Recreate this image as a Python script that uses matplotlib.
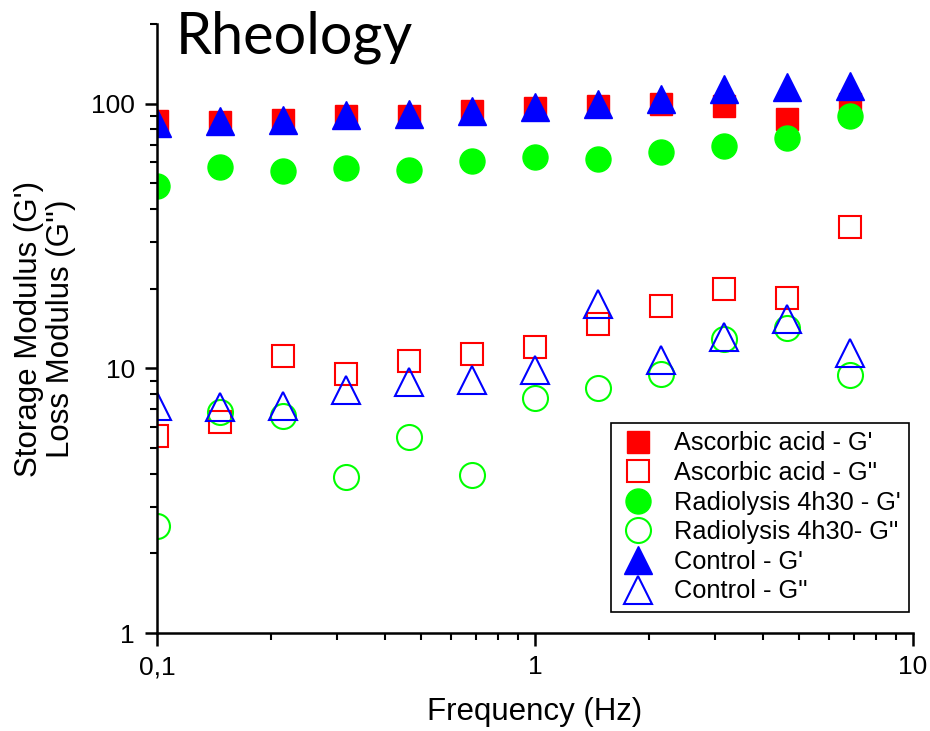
import matplotlib.pyplot as plt
from matplotlib.ticker import FixedLocator, LogLocator, NullFormatter

plt.rcParams['font.family'] = ['Liberation Sans', 'DejaVu Sans']

# frequencies (Hz), 6 points per decade
freq = [0.1, 0.147, 0.215, 0.316, 0.464, 0.681, 1.0, 1.47, 2.15, 3.16, 4.64, 6.81]

ascorbic_g1 = [86.3, 85.0, 87.0, 89.6, 89.6, 94.0, 96.7, 98.5, 99.8, 97.8, 87.5, 100.0]
ascorbic_g2 = [5.54, 6.29, 11.1, 9.52, 10.66, 11.3, 12.1, 14.7, 17.2, 20.0, 18.4, 34.1]
radio_g1 = [48.8, 57.5, 55.9, 57.2, 56.2, 61.0, 62.7, 61.6, 65.5, 69.0, 74.5, 89.6]
radio_g2 = [2.53, 6.84, 6.59, 3.89, 5.49, 3.97, 7.73, 8.43, 9.55, 12.9, 14.2, 9.46]
control_g1 = [84.3, 86.3, 87.0, 91.0, 91.8, 94.0, 96.9, 99.4, 104.0, 114.0, 116.0, 116.6]
control_g2 = [7.19, 7.13, 7.2, 8.3, 8.87, 9.08, 9.83, 17.5, 10.8, 13.2, 15.4, 11.4]

fig = plt.figure(figsize=(9.3, 7.31), dpi=100)
ax = fig.add_axes([0.1688, 0.134, 0.8129, 0.833])

red, green, blue = '#ff0000', '#00ff00', '#0000ff'
ax.plot(freq, ascorbic_g1, 's', ms=16, color=red, mec=red, label="Ascorbic acid - G'")
ax.plot(freq, ascorbic_g2, 's', ms=16, mfc='none', mec=red, mew=1.5, label="Ascorbic acid - G''")
ax.plot(freq, radio_g1, 'o', ms=18, color=green, mec=green, label="Radiolysis 4h30 - G'")
ax.plot(freq, radio_g2, 'o', ms=18, mfc='none', mec=green, mew=1.5, label="Radiolysis 4h30- G''")
ax.plot(freq, control_g1, '^', ms=20, color=blue, mec=blue, label="Control - G'")
ax.plot(freq, control_g2, '^', ms=20, mfc='none', mec=blue, mew=1.5, label="Control - G''")

ax.set_xscale('log')
ax.set_yscale('log')
ax.set_xlim(0.1, 10)
ax.set_ylim(1, 200)

ax.xaxis.set_major_locator(FixedLocator([0.1, 1, 10]))
ax.set_xticklabels(['0,1', '1', '10'])
ax.xaxis.set_minor_locator(LogLocator(base=10, subs=range(2, 10)))
ax.xaxis.set_minor_formatter(NullFormatter())
ax.yaxis.set_major_locator(FixedLocator([1, 10, 100]))
ax.set_yticklabels(['1', '10', '100'])
ax.yaxis.set_minor_locator(LogLocator(base=10, subs=range(2, 10)))
ax.yaxis.set_minor_formatter(NullFormatter())

for s in ['top', 'right']:
    ax.spines[s].set_visible(False)
for s in ['left', 'bottom']:
    ax.spines[s].set_linewidth(1.8)
ax.tick_params(which='major', direction='out', length=9, width=1.8, labelsize=19, pad=7)
ax.tick_params(which='minor', direction='out', length=5, width=1.5)

ax.set_xlabel('Frequency (Hz)', fontsize=22.5, labelpad=13)
ax.set_ylabel("Storage Modulus (G')\nLoss Modulus (G'')", fontsize=22.5, linespacing=1.05, labelpad=11)

ax.text(0.025, 0.952, 'Rheology', transform=ax.transAxes, fontsize=41.5,
        family=['Lato', 'DejaVu Sans'], va='baseline', ha='left')

leg = ax.legend(loc='lower right', bbox_to_anchor=(0.995, 0.034), fontsize=18.3,
                fancybox=False, framealpha=1, edgecolor='black', borderpad=0.35,
                handlelength=1.4, handletextpad=0.7, labelspacing=0.22,
                markerscale=1.0, borderaxespad=0)
leg.get_frame().set_linewidth(1.2)

fig.savefig('out.png', dpi=100)
